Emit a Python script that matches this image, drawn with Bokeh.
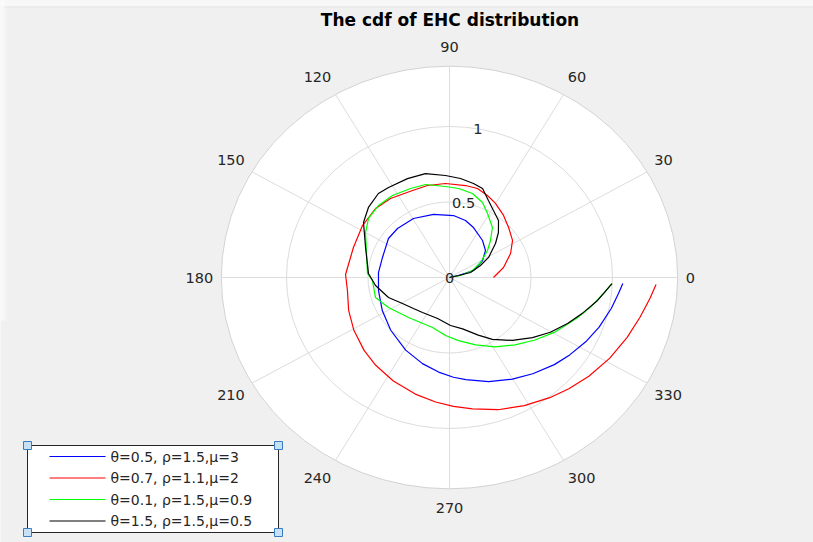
import numpy as np
from bokeh.plotting import figure
from bokeh.models import Range1d
from bokeh.core.properties import value
from bokeh.embed import file_html
from bokeh.resources import INLINE

# ---------------- data (angle in degrees, radius) ----------------
blue_theta = [0, 13.5, 17.5, 29, 39, 50.4, 66, 75.4, 86.6, 103.2, 119.5, 134.5, 145.4,
              162.1, 175.7, 191.2, 208, 224.1, 240.8, 253.8, 263.9, 272.1, 278.4, 289.2,
              299.8, 308.7, 318.1, 325.2, 333, 340.3, 348.4, 354.2, 357.9]
blue_rho = [0, 0.057, 0.154, 0.232, 0.284, 0.318, 0.362, 0.390, 0.411, 0.429, 0.449, 0.455,
            0.455, 0.432, 0.437, 0.444, 0.467, 0.502, 0.551, 0.594, 0.630, 0.661, 0.684,
            0.730, 0.776, 0.817, 0.864, 0.898, 0.938, 0.975, 1.014, 1.042, 1.064]

red_theta = [0, 11.3, 23, 32.4, 42.4, 51.1, 60.1, 66.8, 73.8, 80.8, 92.3, 102.5, 111.5,
             124.7, 134.8, 147.2, 161.4, 178.2, 187.8, 199.4, 210.8, 222.5, 232.1, 243.3,
             254.8, 264.1, 271.6, 279.2, 288.8, 298.4, 307.7, 314.8, 322.6, 331.5, 340,
             347.3, 353.6, 357.9]
red_rho = [0.270, 0.338, 0.407, 0.458, 0.491, 0.528, 0.566, 0.591, 0.614, 0.617, 0.623,
           0.624, 0.619, 0.636, 0.644, 0.635, 0.622, 0.638, 0.632, 0.656, 0.683, 0.712,
           0.737, 0.767, 0.800, 0.829, 0.854, 0.882, 0.925, 0.965, 1.006, 1.039, 1.076,
           1.119, 1.160, 1.198, 1.238, 1.268]

green_theta = [0, 11.1, 18.2, 27.6, 37.5, 44.3, 51.5, 61.2, 67.8, 75.8, 84.6, 92.3, 103.4,
               112.1, 122.8, 132.4, 141.8, 150, 162.7, 177, 182.4, 196.3, 208, 226.5, 252.5,
               266.4, 277.5, 289.8, 301.3, 312, 321.7, 330.8, 340.9, 347.1, 353.6, 357.7]
green_rho = [0, 0.069, 0.149, 0.215, 0.294, 0.351, 0.423, 0.484, 0.536, 0.574, 0.592, 0.603,
             0.633, 0.636, 0.646, 0.646, 0.632, 0.595, 0.533, 0.504, 0.473, 0.473, 0.424,
             0.365, 0.347, 0.385, 0.422, 0.474, 0.537, 0.601, 0.668, 0.741, 0.826, 0.886,
             0.951, 0.996]

black_theta = [0, 13.5, 14.4, 22.7, 29, 38.6, 44.8, 51.5, 58.7, 64.9, 71, 76.7, 84.1, 92.1,
               102.1, 111.5, 122.1, 128.1, 137, 145.4, 158.9, 176.9, 186.7, 199.5, 210.8,
               222.9, 234.5, 255, 271.1, 283.3, 294.8, 302.7, 312.8, 322, 329.6, 337.2,
               344.3, 350.5, 357.7]
black_rho = [0, 0.057, 0.133, 0.206, 0.274, 0.361, 0.423, 0.483, 0.519, 0.563, 0.623, 0.640,
             0.659, 0.676, 0.704, 0.704, 0.704, 0.707, 0.680, 0.641, 0.552, 0.498, 0.457,
             0.397, 0.336, 0.302, 0.285, 0.281, 0.318, 0.350, 0.420, 0.487, 0.568, 0.646,
             0.717, 0.786, 0.854, 0.921, 0.998]

series_labels = ["θ=0.5, ρ=1.5,μ=3", "θ=0.7, ρ=1.1,μ=2",
                 "θ=0.1, ρ=1.5,μ=0.9", "θ=1.5, ρ=1.5,μ=0.5"]
series_colors = ["#0000ff", "#ff0000", "#00ff00", "#000000"]

theta_ticks = list(range(0, 360, 30))
theta_tick_labels = [str(t) for t in theta_ticks]
r_ticks = [0, 0.5, 1]
r_tick_labels = ["0", "0.5", "1"]
r_max = 1.4
r_label_angle = 80

title = "The cdf of EHC distribution"

# ---------------- canvas geometry ----------------
W, H = 813, 542
CX, CY = 449.0, 277.0     # pole position on the canvas, px
KX, KY = 163.0, 151.0     # px per radial unit (horizontal, vertical)

def to_data(px, py):
    """canvas pixel -> data coordinates"""
    return (np.asarray(px, float) - CX) / KX, (CY - np.asarray(py, float)) / KY

def polar(theta_deg, rho):
    t = np.deg2rad(np.asarray(theta_deg, float))
    r = np.asarray(rho, float)
    return r * np.cos(t), r * np.sin(t)

p = figure(width=W, height=H, output_backend="svg", toolbar_location=None,
           x_range=Range1d(-CX / KX, (W - CX) / KX),
           y_range=Range1d(-(H - CY) / KY, CY / KY),
           x_axis_location=None, y_axis_location=None, min_border=0,
           background_fill_color="#f0f0f0", border_fill_color="#f0f0f0",
           outline_line_color=None)
p.grid.visible = False

FONT = value("DejaVu Sans")
TXT = "#262626"
GRID = "#dcdcdc"
LW = 1.2

# window frame shading along the top and left edges
bx0, by0 = to_data(0, 0)
bx1, by1 = to_data(W, 6)
p.quad(left=bx0, right=bx1, top=by0, bottom=by1, fill_color="#f7f7f7", line_color=None)
lx0, ly0 = to_data(0, 6.5)
lx1, _ = to_data(W, 6.5)
p.segment(x0=lx0, y0=ly0, x1=lx1, y1=ly0, line_color="#e4e4e4", line_width=1)
for i, a in enumerate([0.8, 0.5, 0.3, 0.12]):
    sx0, sy0 = to_data(i * 2, 0)
    sx1, sy1 = to_data(i * 2 + 2, 320)
    p.quad(left=sx0, right=sx1, top=sy0, bottom=sy1, fill_color="white",
           fill_alpha=a, line_color=None)

# polar axes: disc, rings and spokes
p.ellipse(x=0, y=0, width=2 * r_max, height=2 * r_max, fill_color="white",
          line_color="#d2d2d2", line_width=1)
for rt in r_ticks[1:]:
    p.ellipse(x=0, y=0, width=2 * rt, height=2 * rt, fill_color=None,
              line_color=GRID, line_width=1)
sx, sy = polar(theta_ticks, [r_max] * len(theta_ticks))
p.segment(x0=0, y0=0, x1=sx, y1=sy, line_color=GRID, line_width=1)

# curves
for th, rh, col in [(blue_theta, blue_rho, series_colors[0]),
                    (red_theta, red_rho, series_colors[1]),
                    (green_theta, green_rho, series_colors[2]),
                    (black_theta, black_rho, series_colors[3])]:
    x, y = polar(th, rh)
    p.line(x, y, line_color=col, line_width=LW)

# angular tick labels (slightly wider horizontally than vertically)
c = np.cos(np.deg2rad(theta_ticks))
s = np.sin(np.deg2rad(theta_ticks))
tx = 1.45 * c
ty = 1.495 * s
aligns = ["left" if v > 0.1 else ("right" if v < -0.1 else "center") for v in c]
bases = ["bottom" if v > 0.1 else ("top" if v < -0.1 else "middle") for v in s]
p.text(x=tx, y=ty, text=theta_tick_labels, text_align=aligns, text_baseline=bases,
       text_font=FONT, text_font_size="14.5px", text_color=TXT)

# radial tick labels along 80 degrees
rx, ry = polar([r_label_angle] * len(r_ticks), r_ticks)
p.text(x=rx, y=ry, text=r_tick_labels, text_align="center", text_baseline="middle",
       text_font=FONT, text_font_size="14.5px", text_color=TXT)

# title
ttx, tty = to_data(449.5, 19.5)
p.text(x=[ttx], y=[tty], text=[title], text_align="center", text_baseline="middle",
       text_font=FONT, text_font_size="17px", text_font_style="bold", text_color="#000000")

# legend box
L, T, R, B = 27, 445, 278, 532
ql, qt = to_data(L, T)
qr, qb = to_data(R, B)
p.quad(left=ql, right=qr, top=qt, bottom=qb, fill_color="white",
       line_color="#262626", line_width=1)
rows = [456, 477.5, 499, 520.5]
gx0, _ = to_data(49, 0)
gx1, _ = to_data(105, 0)
txt_x, _ = to_data(110, 0)
_, gy = to_data(0, rows)
p.segment(x0=[gx0] * 4, y0=gy, x1=[gx1] * 4, y1=gy, line_color=series_colors, line_width=LW)
p.text(x=[txt_x] * 4, y=gy, text=series_labels, text_align="left", text_baseline="middle",
       text_font=FONT, text_font_size="14px", text_color=TXT)

# selection handles at the legend corners
hx, hy = to_data([L, R, L, R], [T, T, B, B])
p.rect(x=hx, y=hy, width=8, height=8, width_units="screen", height_units="screen",
       fill_color="#c6e0f5", line_color="#3a7cc0", line_width=1)

open("out.html", "w").write(file_html(p, INLINE))
